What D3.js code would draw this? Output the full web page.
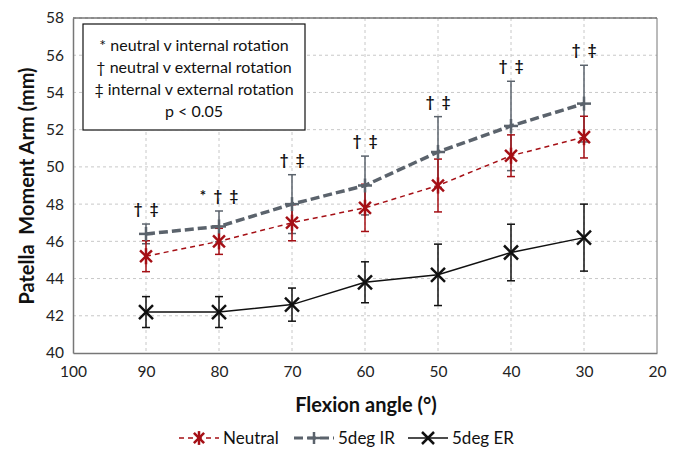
<!DOCTYPE html>
<html>
<head>
<meta charset="utf-8">
<script src="https://cdn.jsdelivr.net/npm/d3@7"></script>
<style>
  body { margin: 0; background: #fff; }
  text { font-family: Lato, "Open Sans", sans-serif; }
</style>
</head>
<body>
<div id="chart"></div>
<script>
const angles = [90, 80, 70, 60, 50, 40, 30];
const neutral = [45.2, 46.0, 47.0, 47.8, 49.0, 50.6, 51.6];
const neutralSd = [0.83, 0.7, 0.97, 1.27, 1.42, 1.12, 1.12];
const ir = [46.4, 46.8, 48.0, 49.0, 50.8, 52.2, 53.4];
const irSd = [0.53, 0.83, 1.58, 1.58, 1.9, 2.4, 2.06];
const er = [42.2, 42.2, 42.6, 43.8, 44.2, 45.4, 46.2];
const erSd = [0.83, 0.83, 0.89, 1.1, 1.65, 1.52, 1.8];
const sigLabels = ["\u2020  \u2021", "*  \u2020  \u2021", "\u2020  \u2021", "\u2020  \u2021", "\u2020  \u2021", "\u2020  \u2021", "\u2020  \u2021"];
const xTicks = [100, 90, 80, 70, 60, 50, 40, 30, 20];
const yTicks = [40, 42, 44, 46, 48, 50, 52, 54, 56, 58];
const noteLines = ["* neutral v internal rotation", "\u2020 neutral v external rotation", "\u2021 internal v external rotation", "p < 0.05"];

const W = 681, H = 449;
const L = 73, R = 657, T = 18, B = 353;

const svg = d3.select("#chart").append("svg")
  .attr("width", W).attr("height", H);

const x = d3.scaleLinear().domain([100, 20]).range([L, R]);
const y = d3.scaleLinear().domain([40, 58]).range([B, T]);

// grid
svg.append("g").selectAll("line").data(yTicks.slice(1)).join("line")
  .attr("x1", L).attr("x2", R).attr("y1", d => y(d)).attr("y2", d => y(d))
  .attr("stroke", "#c8c8c8").attr("stroke-dasharray", "3,3");
svg.append("g").selectAll("line").data(xTicks.slice(1, -1)).join("line")
  .attr("y1", T).attr("y2", B).attr("x1", d => x(d)).attr("x2", d => x(d))
  .attr("stroke", "#c8c8c8").attr("stroke-dasharray", "3,3");

// frame
svg.append("line").attr("x1", L).attr("x2", R).attr("y1", T).attr("y2", T).attr("stroke", "#333");
svg.append("line").attr("x1", R).attr("x2", R).attr("y1", T).attr("y2", B).attr("stroke", "#777");

const xAxis = svg.append("g").attr("transform", `translate(0,${B})`)
  .call(d3.axisBottom(x).tickValues(xTicks).tickSize(0).tickPadding(13));
const yAxis = svg.append("g").attr("transform", `translate(${L},0)`)
  .call(d3.axisLeft(y).tickValues(yTicks).tickSize(0).tickPadding(9));
[xAxis, yAxis].forEach(a => {
  a.select(".domain").attr("stroke", "#777").attr("stroke-width", 1.5);
  a.selectAll("text").attr("font-size", 15.5).attr("fill", "#222")
    .attr("font-family", "Lato, 'Open Sans', sans-serif");
});

const series = [
  { vals: ir, sd: irSd, color: "#5b636c", width: 3.5, dash: "9,4", marker: "plus" },
  { vals: neutral, sd: neutralSd, color: "#a50f15", width: 1.5, dash: "5,4", marker: "star" },
  { vals: er, sd: erSd, color: "#111", width: 1.5, dash: null, marker: "cross" }
];

function drawMarker(g, kind, cx, cy, color, s) {
  const lines = [];
  if (kind === "plus") {
    lines.push([-s, 0, s, 0], [0, -s, 0, s]);
  } else if (kind === "cross") {
    lines.push([-s, -s, s, s], [-s, s, s, -s]);
  } else {
    lines.push([-s * 0.85, -s * 0.85, s * 0.85, s * 0.85], [-s * 0.85, s * 0.85, s * 0.85, -s * 0.85], [0, -s * 1.15, 0, s * 1.15]);
  }
  lines.forEach(l => g.append("line")
    .attr("x1", cx + l[0]).attr("y1", cy + l[1]).attr("x2", cx + l[2]).attr("y2", cy + l[3])
    .attr("stroke", color).attr("stroke-width", 2.5));
}

const line = d3.line().x((d, i) => x(angles[i])).y(d => y(d));

// error bars, drawn under lines
series.forEach(s => {
  const g = svg.append("g");
  s.vals.forEach((v, i) => {
    const cx = x(angles[i]);
    const y1 = y(v + s.sd[i]), y2 = y(v - s.sd[i]);
    g.append("line").attr("x1", cx).attr("x2", cx).attr("y1", y1).attr("y2", y2)
      .attr("stroke", s.color).attr("stroke-width", 1.5);
    [y1, y2].forEach(yy => g.append("line").attr("x1", cx - 4).attr("x2", cx + 4)
      .attr("y1", yy).attr("y2", yy).attr("stroke", s.color).attr("stroke-width", 1.5));
  });
});

series.slice().reverse().forEach(s => {
  svg.append("path").datum(s.vals).attr("d", line)
    .attr("fill", "none").attr("stroke", s.color).attr("stroke-width", s.width)
    .attr("stroke-dasharray", s.dash);
  const g = svg.append("g");
  s.vals.forEach((v, i) => drawMarker(g, s.marker, x(angles[i]), y(v), s.color, 7));
});

// significance labels
svg.append("g").selectAll("text").data(sigLabels).join("text")
  .attr("x", (d, i) => x(angles[i]))
  .attr("y", (d, i) => y(ir[i] + irSd[i]) - 10)
  .attr("text-anchor", "middle").attr("font-size", 15).attr("font-weight", "bold")
  .style("white-space", "pre")
  .attr("fill", "#111").text(d => d);

// note box
svg.append("rect").attr("x", 83).attr("y", 24).attr("width", 222).attr("height", 106)
  .attr("fill", "#fff").attr("stroke", "#111").attr("stroke-width", 1.2);
svg.append("g").selectAll("text").data(noteLines).join("text")
  .attr("x", 194).attr("y", (d, i) => 51 + i * 22)
  .attr("text-anchor", "middle").attr("font-size", 16).attr("fill", "#111").text(d => d);

// axis titles
svg.append("text").attr("x", 366).attr("y", 412).attr("text-anchor", "middle")
  .attr("font-size", 20).attr("font-weight", "bold").attr("fill", "#111").text("Flexion angle (\u00b0)");
svg.append("text").attr("transform", `translate(34,${186}) rotate(-90)`)
  .attr("text-anchor", "middle").attr("font-size", 20).attr("font-weight", "bold").attr("fill", "#111")
  .style("white-space", "pre")
  .text("Patella  Moment Arm (mm)");

// legend
const legendItems = [
  { name: "Neutral", s: series[1], x0: 179 },
  { name: "5deg IR", s: series[0], x0: 294 },
  { name: "5deg ER", s: series[2], x0: 408 }
];
legendItems.forEach(it => {
  const ly = 438;
  const g = svg.append("g");
  g.append("line").attr("x1", it.x0).attr("x2", it.x0 + 40).attr("y1", ly).attr("y2", ly)
    .attr("stroke", it.s.color).attr("stroke-width", it.s.width === 3.5 ? 3 : 1.5)
    .attr("stroke-dasharray", it.s.dash);
  drawMarker(g, it.s.marker, it.x0 + 20, ly, it.s.color, 6);
  g.append("text").attr("x", it.x0 + 44).attr("y", ly + 6).attr("font-size", 17)
    .attr("fill", "#111").text(it.name);
});
</script>
</body>
</html>
